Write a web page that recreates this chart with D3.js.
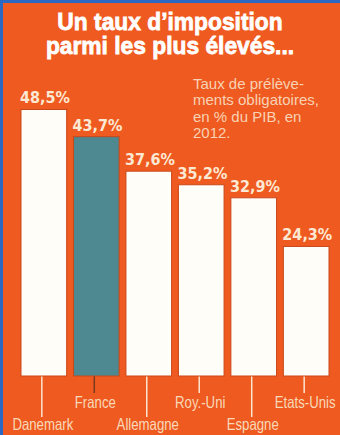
<!DOCTYPE html>
<html lang="fr">
<head>
<meta charset="UTF-8">
<title>Un taux d'imposition parmi les plus élevés</title>
<style>
    html, body { margin: 0; padding: 0; background: #ef5a20; }
    svg { display: block; }
</style>
</head>
<body>
<div id="chart"></div>
<script src="https://d3js.org/d3.v7.min.js"></script>
<script>
    const countries = ["Danemark", "France", "Allemagne", "Roy.-Uni", "Espagne", "Etats-Unis"];
    const values = [48.5, 43.7, 37.6, 35.2, 32.9, 24.3];
    const valueLabels = ["48,5%", "43,7%", "37,6%", "35,2%", "32,9%", "24,3%"];
    const titleLines = ["Un taux d\u2019imposition", "parmi les plus élevés..."];
    const noteLines = ["Taux de prélève-", "ments obligatoires,", "en % du PIB, en", "2012."];

    const width = 340, height = 435;
    const bottom = 376;
    const narrow = 0.8; // pas de police condensée installée : on compresse en largeur

    const svg = d3.select("#chart").append("svg")
        .attr("width", width)
        .attr("height", height);

    // fond orange + liseré bleu en haut et à gauche
    svg.append("rect").attr("width", width).attr("height", height).attr("fill", "#ef5a20");
    svg.append("rect").attr("width", width).attr("height", 3).attr("fill", "#2a68c4");
    svg.append("rect").attr("width", 3).attr("height", height).attr("fill", "#2a68c4");

    svg.append("g").selectAll("text")
        .data(titleLines)
        .enter().append("text")
        .attr("transform", (d, i) => `translate(170,${30 + i * 24}) scale(0.95,1)`)
        .attr("text-anchor", "middle")
        .attr("font-family", "'Liberation Sans', Arial, sans-serif")
        .attr("font-weight", "bold")
        .attr("font-size", 24)
        .attr("fill", "#ffffff")
        .attr("stroke", "#ffffff")
        .attr("stroke-width", 0.8)
        .text(d => d);

    svg.append("g").selectAll("text")
        .data(noteLines)
        .enter().append("text")
        .attr("x", 193)
        .attr("y", (d, i) => 89 + i * 16.3)
        .attr("font-family", "'Liberation Sans', sans-serif")
        .attr("font-size", 15)
        .attr("fill", "#f8d2b4")
        .text(d => d);

    const x = d3.scaleBand()
        .domain(countries)
        .range([21, 329])
        .paddingInner(0.13)
        .paddingOuter(0);

    const y = d3.scaleLinear()
        .domain([0, 50])
        .range([384, 101]);

    const data = countries.map((c, i) => ({ country: c, value: values[i], label: valueLabels[i], i: i }));

    // traits de rappel vers les noms de pays
    svg.append("g").selectAll("line")
        .data(data)
        .enter().append("line")
        .attr("x1", d => x(d.country) + x.bandwidth() / 2 - 2)
        .attr("x2", d => x(d.country) + x.bandwidth() / 2 - 2)
        .attr("y1", bottom)
        .attr("y2", d => d.i % 2 === 0 ? 417 : 393)
        .attr("stroke", d => d.country === "France" ? "#7a3a20" : "#fbe6cf")
        .attr("stroke-width", 1.5);

    svg.append("g").selectAll("rect")
        .data(data)
        .enter().append("rect")
        .attr("x", d => x(d.country))
        .attr("y", d => y(d.value))
        .attr("width", x.bandwidth())
        .attr("height", d => bottom - y(d.value))
        .attr("fill", d => d.country === "France" ? "#4e8890" : "#fffdf8")
        .attr("stroke", "#c9481a")
        .attr("stroke-width", 1);

    svg.append("g").selectAll("text")
        .data(data)
        .enter().append("text")
        .attr("transform", d => `translate(${x(d.country) - 1},${y(d.value) - 6}) scale(0.9,1)`)
        .attr("font-family", "'DejaVu Sans', sans-serif")
        .attr("font-weight", "bold")
        .attr("font-size", 16)
        .attr("fill", "#fce9d4")
        .text(d => d.label);

    svg.append("g").selectAll("text")
        .data(data)
        .enter().append("text")
        .attr("transform", d => `translate(${x(d.country) + x.bandwidth() / 2 - 1},${d.i % 2 === 0 ? 430 : 408}) scale(${narrow},1)`)
        .attr("text-anchor", "middle")
        .attr("font-family", "'Liberation Sans', sans-serif")
        .attr("font-size", 16.5)
        .attr("fill", "#f8d9b8")
        .text(d => d.country);
</script>
</body>
</html>
